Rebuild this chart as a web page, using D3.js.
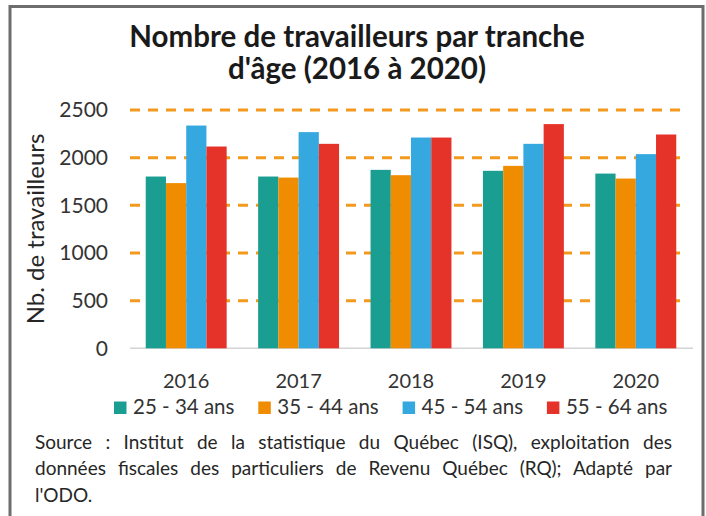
<!DOCTYPE html>
<html>
<head>
<meta charset="utf-8">
<script src="https://cdn.jsdelivr.net/npm/d3@7"></script>
<style>
  body { margin: 0; background: #fff; }
  text { font-family: Lato, "Open Sans", sans-serif; }
</style>
</head>
<body>
<div class="chart"></div>
<script>
// data
var years = ['2016', '2017', '2018', '2019', '2020'];
var ageGroups = ['25 - 34 ans', '35 - 44 ans', '45 - 54 ans', '55 - 64 ans'];
var v25to34 = [1802, 1802, 1872, 1862, 1833];
var v35to44 = [1733, 1791, 1816, 1914, 1781];
var v45to54 = [2337, 2268, 2211, 2145, 2037];
var v55to64 = [2117, 2145, 2211, 2352, 2243];
var yTicks = [0, 500, 1000, 1500, 2000, 2500];
var colors = ['#1a9e91', '#ef8c00', '#36a8e0', '#e5332a'];

var titleLines = ['Nombre de travailleurs par tranche', "d'âge (2016 à 2020)"];
var yTitle = 'Nb. de travailleurs';
var sourceLines = [
  'Source : Institut de la statistique du Québec (ISQ), exploitation des',
  'données fiscales des particuliers de Revenu Québec (RQ); Adapté par',
  "l'ODO."
];

var seriesValues = [v25to34, v35to44, v45to54, v55to64];
var data = years.map((y, i) => ({
  year: y,
  values: ageGroups.map((g, j) => ({ group: g, value: seriesValues[j][i] }))
}));

var W = 706, H = 516;
var plot = { left: 130, right: 692, top: 110, bottom: 348.3 };

var svg = d3.select('.chart')
  .append('svg')
    .attr('width', W)
    .attr('height', H);

// frame
svg.append('rect')
  .attr('x', 10).attr('y', 6.5)
  .attr('width', 693).attr('height', 530)
  .attr('fill', '#fff')
  .attr('stroke', '#6d6d6d')
  .attr('stroke-width', 3);

// title
svg.append('g').selectAll('text')
  .data(titleLines)
  .enter()
  .append('text')
    .attr('x', 357)
    .attr('y', (d, i) => 47 + i * 31.5)
    .attr('text-anchor', 'middle')
    .attr('font-size', 29.5)
    .attr('font-weight', 'bold')
    .attr('fill', '#1a1a1a')
    .text(d => d);

var yScale = d3.scaleLinear()
  .domain([0, 2500])
  .range([plot.bottom, plot.top]);

var x0 = d3.scaleBand()
  .domain(years)
  .range([plot.left, plot.right])
  .paddingInner(0.28)
  .paddingOuter(0.14);

var x1 = d3.scaleBand()
  .domain(ageGroups)
  .range([0, x0.bandwidth()]);

var color = d3.scaleOrdinal().domain(ageGroups).range(colors);

// dashed grid
svg.append('g')
  .selectAll('line')
  .data(yTicks.filter(d => d > 0))
  .enter()
  .append('line')
    .attr('x1', plot.left).attr('x2', 687)
    .attr('y1', d => yScale(d)).attr('y2', d => yScale(d))
    .attr('stroke', '#f39a1e')
    .attr('stroke-width', 3)
    .attr('stroke-dasharray', '10,8');

// baseline
svg.append('line')
  .attr('x1', plot.left).attr('x2', 693)
  .attr('y1', yScale(0)).attr('y2', yScale(0))
  .attr('stroke', '#d4d4d4')
  .attr('stroke-width', 1.5);

// y axis labels
var yAxis = d3.axisLeft(yScale)
  .tickValues(yTicks)
  .tickFormat(d3.format('d'))
  .tickSize(0)
  .tickPadding(22);

svg.append('g')
  .attr('transform', `translate(${plot.left}, 0)`)
  .call(yAxis)
  .call(g => g.select('.domain').remove())
  .selectAll('text')
    .attr('font-family', 'Lato, sans-serif')
    .attr('font-size', 21)
    .attr('fill', '#333');

// x axis labels
var xAxis = d3.axisBottom(x0)
  .tickSize(0)
  .tickPadding(26);

svg.append('g')
  .attr('transform', `translate(0, ${plot.bottom})`)
  .call(xAxis)
  .call(g => g.select('.domain').remove())
  .selectAll('text')
    .attr('font-family', 'Lato, sans-serif')
    .attr('font-size', 20)
    .attr('fill', '#333');

// bars
svg.append('g')
  .selectAll('g')
  .data(data)
  .enter()
  .append('g')
    .attr('transform', d => `translate(${x0(d.year)}, 0)`)
  .selectAll('rect')
  .data(d => d.values)
  .enter()
  .append('rect')
    .attr('x', d => x1(d.group))
    .attr('y', d => yScale(d.value))
    .attr('width', x1.bandwidth())
    .attr('height', d => yScale(0) - yScale(d.value))
    .attr('fill', d => color(d.group));

// y axis title
svg.append('text')
  .attr('transform', 'translate(44, 229) rotate(-90)')
  .attr('text-anchor', 'middle')
  .attr('font-size', 24)
  .attr('fill', '#262626')
  .text(yTitle);

// legend
var legend = svg.append('g')
  .selectAll('g')
  .data(ageGroups)
  .enter()
  .append('g')
    .attr('transform', (d, i) => `translate(${114 + i * 144.3}, 401.5)`);

legend.append('rect')
  .attr('width', 12.5)
  .attr('height', 12.5)
  .attr('fill', d => color(d));

legend.append('text')
  .attr('x', 19)
  .attr('y', 12.5)
  .attr('font-size', 20.5)
  .attr('fill', '#333')
  .text(d => d);

// source note, first two lines justified
var src = svg.append('g')
  .selectAll('text')
  .data(sourceLines)
  .enter()
  .append('text')
    .attr('x', 35)
    .attr('y', (d, i) => 448.5 + i * 26.7)
    .attr('font-size', 19)
    .attr('fill', '#262626')
    .text(d => d);

src.each(function(d, i) {
  if (i === sourceLines.length - 1) return;
  var natural = this.getComputedTextLength();
  var spaces = d.split(' ').length - 1;
  var target = 672 - 35;
  d3.select(this).attr('word-spacing', (target - natural) / spaces);
});
</script>
</body>
</html>
